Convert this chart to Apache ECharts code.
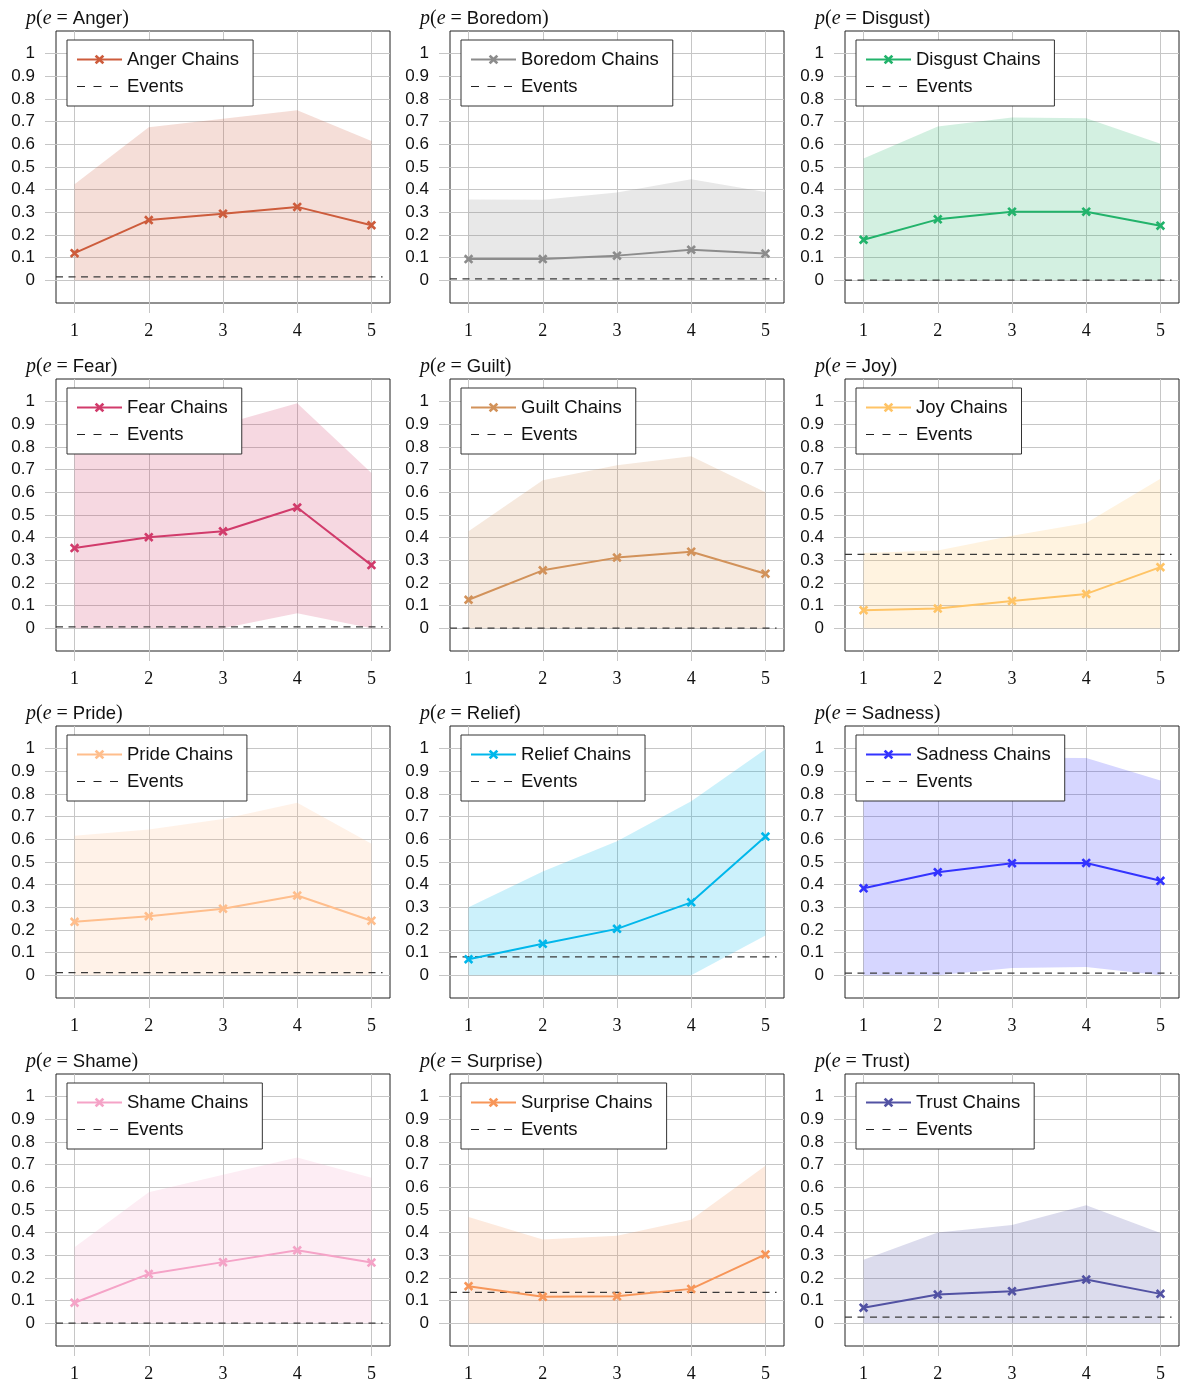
<!DOCTYPE html>
<html>
<head>
<meta charset="utf-8">
<script src="https://cdn.jsdelivr.net/npm/echarts@6/dist/echarts.min.js"></script>
<style>
  html, body { margin: 0; padding: 0; background: #fff; }
  #wrap { position: relative; width: 1180px; height: 1382px; }
  .panel { position: absolute; width: 394px; height: 348px; }
</style>
</head>
<body>
<div id="wrap"></div>
<script>
// chain step on the x axis
const steps = [1, 2, 3, 4, 5];
const yTicks = [0, 0.1, 0.2, 0.3, 0.4, 0.5, 0.6, 0.7, 0.8, 0.9, 1];

const emotions = ['Anger', 'Boredom', 'Disgust', 'Fear', 'Guilt', 'Joy',
  'Pride', 'Relief', 'Sadness', 'Shame', 'Surprise', 'Trust'];

const colors = ['#cd5c3c', '#8c8c8c', '#22b36b', '#d13b6b', '#d2925a', '#ffc466',
  '#ffbe8c', '#00b7eb', '#3333ff', '#f5a3c7', '#f79659', '#5252a3'];

// mean p(e) of the chains at each step
const chainMean = [
  [0.12, 0.266, 0.294, 0.324, 0.243],
  [0.094, 0.094, 0.109, 0.135, 0.118],
  [0.179, 0.269, 0.303, 0.303, 0.241],
  [0.354, 0.402, 0.428, 0.533, 0.279],
  [0.126, 0.256, 0.312, 0.338, 0.241],
  [0.08, 0.087, 0.121, 0.152, 0.27],
  [0.236, 0.261, 0.294, 0.352, 0.241],
  [0.071, 0.139, 0.205, 0.322, 0.612],
  [0.384, 0.455, 0.495, 0.496, 0.417],
  [0.091, 0.218, 0.27, 0.322, 0.268],
  [0.164, 0.117, 0.119, 0.152, 0.304],
  [0.069, 0.127, 0.142, 0.193, 0.13]
];

// shaded band, upper edge
const bandUpper = [
  [0.424, 0.675, 0.713, 0.75, 0.615],
  [0.357, 0.356, 0.388, 0.446, 0.39],
  [0.538, 0.679, 0.718, 0.715, 0.603],
  [0.85, 0.88, 0.9, 0.993, 0.685],
  [0.428, 0.653, 0.72, 0.759, 0.6],
  [0.332, 0.343, 0.409, 0.465, 0.66],
  [0.616, 0.643, 0.69, 0.761, 0.58],
  [0.3, 0.458, 0.592, 0.768, 0.997],
  [0.88, 0.93, 0.96, 0.959, 0.86],
  [0.336, 0.578, 0.656, 0.732, 0.642],
  [0.469, 0.37, 0.386, 0.457, 0.695],
  [0.28, 0.401, 0.434, 0.521, 0.398]
];

// shaded band, lower edge
const bandLower = [
  [0, 0, 0, 0, 0],
  [0, 0, 0, 0, 0],
  [0, 0, 0, 0, 0],
  [0, 0, 0, 0.066, 0],
  [0, 0, 0, 0, 0],
  [0, 0, 0, 0, 0],
  [0, 0, 0, 0, 0],
  [0, 0, 0, 0, 0.176],
  [0, 0, 0.032, 0.037, 0],
  [0, 0, 0, 0, 0],
  [0, 0, 0, 0, 0],
  [0, 0, 0, 0, 0]
];

// p(e) over the events (dashed line)
const eventRate = [0.015, 0.006, 0.001, 0.006, 0.001, 0.326,
  0.012, 0.081, 0.01, 0.001, 0.137, 0.027];

const crossPath = 'path://M2,0L5,3L8,0L10,2L7,5L10,8L8,10L5,7L2,10L0,8L3,5L0,2Z';

const colLeft = [0, 394, 789];
const rowTop = [0, 348, 695, 1043];

function buildOption(i) {
  const name = emotions[i];
  const c = colors[i];
  const lower = bandLower[i];
  const upper = bandUpper[i];
  const gridLine = { color: '#c6c6c6', width: 1 };

  return {
    animation: false,
    title: {
      text: '{i|p}{m|(}{i|e}{m| = }{t|' + name + '}{m|)}',
      left: 21,
      top: 4,
      textStyle: {
        fontWeight: 'normal',
        rich: {
          i: { fontFamily: 'Liberation Serif', fontStyle: 'italic', fontWeight: 'normal', fontSize: 20, color: '#111' },
          m: { fontFamily: 'Liberation Serif', fontWeight: 'normal', fontSize: 20, color: '#111' },
          t: { fontFamily: 'Liberation Sans', fontWeight: 'normal', fontSize: 18.5, color: '#111' }
        }
      }
    },
    legend: {
      data: [
        name + ' Chains',
        {
          name: 'Events',
          itemStyle: { color: 'rgba(0,0,0,0)', borderWidth: 0, opacity: 0 },
          lineStyle: { color: '#222', width: 1.2, type: [8, 8.5] }
        }
      ],
      selectedMode: false,
      orient: 'vertical',
      left: 67,
      top: 40,
      backgroundColor: '#fff',
      borderColor: '#333',
      borderWidth: 1,
      borderRadius: 0,
      padding: [10, 14, 10, 9],
      itemGap: 8,
      itemWidth: 45,
      itemHeight: 12,
      textStyle: { fontFamily: 'Liberation Sans', fontSize: 18.5, color: '#111' }
    },
    grid: {
      left: 56, top: 31, width: 334, height: 272,
      show: true, borderColor: '#222', borderWidth: 1
    },
    xAxis: {
      type: 'value',
      min: 0.75,
      max: 5.25,
      axisLine: { show: false, onZero: false },
      axisTick: { show: true, customValues: steps, length: 10, lineStyle: gridLine },
      axisLabel: {
        customValues: steps, margin: 19,
        fontFamily: 'Liberation Serif', fontSize: 18, color: '#111'
      },
      splitLine: { show: true, lineStyle: gridLine }
    },
    yAxis: {
      type: 'value',
      min: -0.1,
      max: 1.1,
      axisLine: { show: false, onZero: false },
      axisTick: { show: true, customValues: yTicks, length: 11, lineStyle: gridLine },
      axisLabel: {
        customValues: yTicks, margin: 21,
        formatter: v => String(+(+v).toFixed(1)),
        fontFamily: 'Liberation Sans', fontSize: 17, color: '#111'
      },
      splitLine: { show: true, lineStyle: gridLine }
    },
    series: [
      {
        name: 'band',
        type: 'custom',
        silent: true,
        encode: { x: 0, y: 1 },
        data: [[steps[0], lower[0]]],
        renderItem: (params, api) => {
          const pts = [];
          steps.forEach((x, k) => pts.push(api.coord([x, upper[k]])));
          for (let k = steps.length - 1; k >= 0; k--) {
            pts.push(api.coord([steps[k], lower[k]]));
          }
          return {
            type: 'polygon',
            shape: { points: pts },
            style: { fill: c, opacity: 0.2 }
          };
        }
      },
      {
        name: 'Events',
        type: 'line',
        symbol: 'none',
        silent: true,
        itemStyle: { color: '#3a3a3a' },
        lineStyle: { color: '#3a3a3a', width: 1.3, type: [7, 5.5] },
        data: [[0.75, eventRate[i]], [5.15, eventRate[i]]]
      },
      {
        name: name + ' Chains',
        type: 'line',
        symbol: crossPath,
        symbolSize: 9.5,
        itemStyle: { color: c },
        lineStyle: { color: c, width: 2 },
        data: steps.map((x, k) => [x, chainMean[i][k]])
      }
    ]
  };
}

const wrap = document.getElementById('wrap');
emotions.forEach((name, i) => {
  const el = document.createElement('div');
  el.className = 'panel';
  el.style.left = colLeft[i % 3] + 'px';
  el.style.top = rowTop[Math.floor(i / 3)] + 'px';
  wrap.appendChild(el);
  const chart = echarts.init(el);
  chart.setOption(buildOption(i));
});
</script>
</body>
</html>
